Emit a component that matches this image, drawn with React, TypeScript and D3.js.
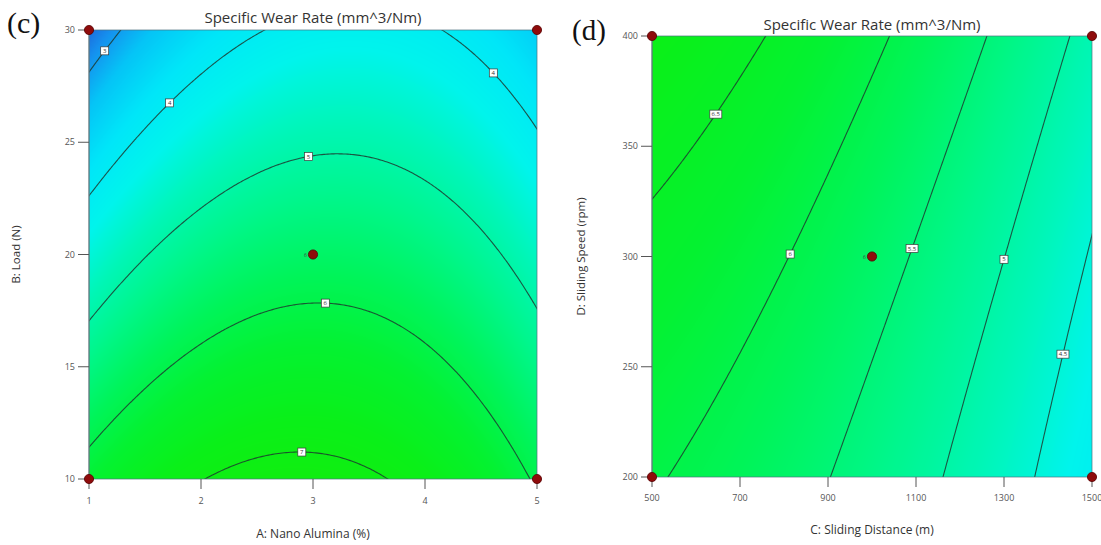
import React, { useMemo } from "react";
import * as d3 from "d3";

// ---- panel (c): A: Nano Alumina vs B: Load ----
const aluminaTicks = [1, 2, 3, 4, 5];
const loadTicks = [10, 15, 20, 25, 30];
// fitted quadratic in coded units: [b0, x, y, xy, x^2, y^2]
const modelAB = [5.672, 0.115, -1.52, 0.276, -1.086, -0.017];
const levelsAB = [3, 4, 5, 6, 7];
// [level, x value where the contour label sits]
const labelsAB = [[3, 1.14], [4, 1.72], [4, 4.61], [5, 2.96], [6, 3.11], [7, 2.9]];
const designAB = [[1, 10], [1, 30], [5, 10], [5, 30], [3, 20]];

// ---- panel (d): C: Sliding Distance vs D: Sliding Speed ----
const distanceTicks = [500, 700, 900, 1100, 1300, 1500];
const speedTicks = [200, 250, 300, 350, 400];
const modelCD = [5.67, -0.965, 0.375, -0.02, -0.24, 0.035];
const levelsCD = [4.5, 5, 5.5, 6, 6.5];
const labelsCD = [[6.5, 645], [6, 814], [5.5, 1091], [5, 1300], [4.5, 1434]];
const designCD = [[500, 200], [500, 400], [1500, 200], [1500, 400], [1000, 300]];

// colour ramp of the response (blue -> cyan -> green)
const colorStops = [2.6, 2.9, 3.3, 3.8, 4.3, 4.8, 5.3, 5.8, 6.3, 6.8, 7.2];
const colorRange = ["#1e62d8", "#1590ee", "#05c4f6", "#00e6f8", "#00f4ec", "#00f6b8", "#00f68a", "#00f45a", "#04f230", "#0af018", "#10ee10"];

const FONT = "'Open Sans', 'Noto Sans', sans-serif";

function Panel(props: any) {
  const { id, x0, x1, y0, y1, xDomain, yDomain, xTicks, yTicks, model, levels, labels, points,
    title, titleY, xTitle, xTitleY, yTitle, yTitleX, letter, letterX, letterY, letterSize,
    xTickY, yTickX } = props;
  const w = x1 - x0, h = y1 - y0;
  const xs = d3.scaleLinear().domain(xDomain).range([x0, x1]);
  const ys = d3.scaleLinear().domain(yDomain).range([y1, y0]);
  const xMid = (xDomain[0] + xDomain[1]) / 2, xHalf = (xDomain[1] - xDomain[0]) / 2;
  const yMid = (yDomain[0] + yDomain[1]) / 2, yHalf = (yDomain[1] - yDomain[0]) / 2;
  const f = (x: number, y: number) => {
    const p = (x - xMid) / xHalf, q = (y - yMid) / yHalf;
    return model[0] + model[1] * p + model[2] * q + model[3] * p * q + model[4] * p * p + model[5] * q * q;
  };

  const heat = useMemo(() => {
    const color = d3.scaleLinear<string>().domain(colorStops).range(colorRange).interpolate(d3.interpolateRgb).clamp(true);
    const lut: number[][] = [];
    for (let k = 0; k <= 600; k++) {
      const c = d3.rgb(color(2.0 + k * 0.01));
      lut.push([c.r, c.g, c.b]);
    }
    const cv = document.createElement("canvas");
    cv.width = w; cv.height = h;
    const ctx = cv.getContext("2d")!;
    const img = ctx.createImageData(w, h);
    for (let j = 0; j < h; j++) {
      for (let i = 0; i < w; i++) {
        const v = f(xs.invert(x0 + i + 0.5), ys.invert(y0 + j + 0.5));
        const k = Math.max(0, Math.min(600, Math.round((v - 2.0) * 100)));
        const o = (j * w + i) * 4;
        img.data[o] = lut[k][0]; img.data[o + 1] = lut[k][1]; img.data[o + 2] = lut[k][2]; img.data[o + 3] = 255;
      }
    }
    ctx.putImageData(img, 0, 0);
    return cv.toDataURL();
  }, []);

  const paths = useMemo(() => {
    const N = 240, pad = 0.03;
    const gx = [xDomain[0] - pad * (xDomain[1] - xDomain[0]), xDomain[1] + pad * (xDomain[1] - xDomain[0])];
    const gy = [yDomain[0] - pad * (yDomain[1] - yDomain[0]), yDomain[1] + pad * (yDomain[1] - yDomain[0])];
    const vals: number[] = new Array(N * N);
    for (let j = 0; j < N; j++)
      for (let i = 0; i < N; i++)
        vals[j * N + i] = f(gx[0] + (i + 0.5) / N * (gx[1] - gx[0]), gy[0] + (j + 0.5) / N * (gy[1] - gy[0]));
    const cont = d3.contours().size([N, N]).thresholds(levels)(vals);
    const proj = d3.geoTransform({
      point(px: number, py: number) {
        (this as any).stream.point(xs(gx[0] + px / N * (gx[1] - gx[0])), ys(gy[0] + py / N * (gy[1] - gy[0])));
      },
    });
    const path = d3.geoPath(proj);
    return cont.map((c) => path(c as any));
  }, []);

  // find y on a contour for a given x
  const solveY = (x: number, level: number) => {
    let lo = yDomain[0], hi = yDomain[1];
    const sLo = Math.sign(f(x, lo) - level);
    for (let k = 0; k < 60; k++) {
      const mid = (lo + hi) / 2;
      if (Math.sign(f(x, mid) - level) === sLo) lo = mid; else hi = mid;
    }
    return (lo + hi) / 2;
  };

  return (
    <g>
      <defs>
        <clipPath id={id}>
          <rect x={x0} y={y0} width={w} height={h} />
        </clipPath>
      </defs>
      <text x={letterX} y={letterY} fontFamily="'Liberation Serif', 'Times New Roman', serif" fontSize={letterSize} fill="#111">{letter}</text>
      <text x={(x0 + x1) / 2} y={titleY} textAnchor="middle" fontFamily={FONT} fontSize={15} fill="#333">{title}</text>
      <image href={heat} x={x0} y={y0} width={w} height={h} preserveAspectRatio="none" />
      <g clipPath={`url(#${id})`}>
        {paths.map((d, i) => (
          <path key={i} d={d || ""} fill="none" stroke="#1d3a30" strokeWidth={1.1} strokeOpacity={0.85} />
        ))}
      </g>
      <rect x={x0} y={y0} width={w} height={h} fill="none" stroke="#4d7480" strokeOpacity={0.7} strokeWidth={1} />
      {/* y axis */}
      <line x1={x0} x2={x0} y1={y0} y2={y1} stroke="#6a7a80" />
      {yTicks.map((t: number) => (
        <g key={t}>
          <line x1={x0 - 11} x2={x0} y1={ys(t)} y2={ys(t)} stroke="#555" />
          <text x={yTickX} y={ys(t) + 3} textAnchor="end" fontFamily={FONT} fontSize={9} fill="#555">{t}</text>
        </g>
      ))}
      {/* x axis */}
      {xTicks.map((t: number) => (
        <g key={t}>
          <line x1={xs(t)} x2={xs(t)} y1={y1} y2={y1 + 10} stroke="#555" />
          <text x={xs(t)} y={xTickY} textAnchor="middle" fontFamily={FONT} fontSize={9} fill="#555">{t}</text>
        </g>
      ))}
      <text x={(x0 + x1) / 2} y={xTitleY} textAnchor="middle" fontFamily={FONT} fontSize={12} fill="#333">{xTitle}</text>
      <text transform={`translate(${yTitleX},${(y0 + y1) / 2}) rotate(-90)`} textAnchor="middle" fontFamily={FONT} fontSize={11.5} fill="#333">{yTitle}</text>
      {/* contour labels */}
      {labels.map(([lev, lx]: number[], i: number) => {
        const px = xs(lx), py = ys(solveY(lx, lev));
        const txt = String(lev);
        const bw = txt.length > 1 ? 12 : 8;
        return (
          <g key={i}>
            <rect x={px - bw / 2} y={py - 4} width={bw} height={8} fill="#fff" stroke="#3a3a3a" strokeWidth={0.7} />
            <text x={px} y={py + 2.2} textAnchor="middle" fontFamily={FONT} fontSize={6} fill="#333">{txt}</text>
          </g>
        );
      })}
      {/* design points */}
      {points.map(([px, py]: number[], i: number) => (
        <circle key={i} cx={xs(px)} cy={ys(py)} r={4.6} fill="#8e0b0b" stroke="#560000" strokeWidth={0.8} />
      ))}
      <text x={xs(points[4][0]) - 9} y={ys(points[4][1]) + 2} fontFamily={FONT} fontSize={5} fill="#444">6</text>
    </g>
  );
}

export default function App() {
  return (
    <svg width={1101} height={545} style={{ position: "absolute", left: 0, top: 0, background: "#fff" }}>
      <Panel id="clipC" x0={89} x1={537} y0={30} y1={479}
        xDomain={[1, 5]} yDomain={[10, 30]} xTicks={aluminaTicks} yTicks={loadTicks}
        model={modelAB} levels={levelsAB} labels={labelsAB} points={designAB}
        title="Specific Wear Rate (mm^3/Nm)" titleY={23}
        xTitle="A: Nano Alumina (%)" xTitleY={538} yTitle="B: Load (N)" yTitleX={20}
        letter="(c)" letterX={7} letterY={33} letterSize={30} xTickY={504} yTickX={75} />
      <Panel id="clipD" x0={652} x1={1092} y0={36} y1={477}
        xDomain={[500, 1500]} yDomain={[200, 400]} xTicks={distanceTicks} yTicks={speedTicks}
        model={modelCD} levels={levelsCD} labels={labelsCD} points={designCD}
        title="Specific Wear Rate (mm^3/Nm)" titleY={29.5}
        xTitle="C: Sliding Distance (m)" xTitleY={534} yTitle="D: Sliding Speed (rpm)" yTitleX={585}
        letter="(d)" letterX={572} letterY={40} letterSize={29} xTickY={501} yTickX={638} />
    </svg>
  );
}
